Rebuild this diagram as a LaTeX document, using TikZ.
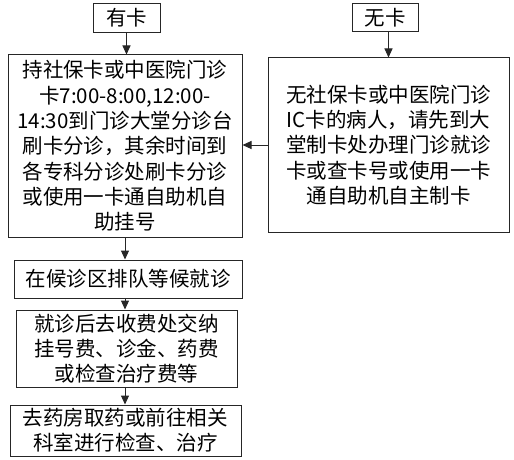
\documentclass[tikz,border=0pt]{standalone}
\usepackage{fontspec}
\setmainfont{Noto Sans CJK SC}
\usetikzlibrary{arrows.meta}
\begin{document}
\begin{tikzpicture}[x=1pt,y=-1pt,
  box/.style={draw=black!85, line width=1pt, inner sep=0pt, align=center,
    font=\fontsize{20.5}{25.3}\selectfont},
  arr/.style={draw=black!85, line width=1pt, -{Triangle[length=9pt,width=8pt]}}]
\useasboundingbox (0,0) rectangle (514,460);
\node[box, minimum width=67pt, minimum height=29pt] (youka) at (126.5,18) {有卡};
\node[box, minimum width=66pt, minimum height=28pt] (wuka) at (385,18) {无卡};
\node[box, minimum width=234pt, minimum height=182pt] (main) at (125,146)
  {持社保卡或中医院门诊\\卡7:00-8:00,12:00-\\14:30到门诊大堂分诊台\\刷卡分诊，其余时间到\\各专科分诊处刷卡分诊\\或使用一卡通自助机自\\助挂号};
\node[box, minimum width=241pt, minimum height=174pt] (right) at (388.5,145)
  {无社保卡或中医院门诊\\IC卡的病人，请先到大\\堂制卡处办理门诊就诊\\卡或查卡号或使用一卡\\通自助机自主制卡};
\node[box, minimum width=228pt, minimum height=38pt] (b3) at (128,279) {在候诊区排队等候就诊};
\node[box, minimum width=221pt, minimum height=77pt] (b4) at (126.5,348.5)
  {就诊后去收费处交纳\\挂号费、诊金、药费\\或检查治疗费等};
\node[box, minimum width=231pt, minimum height=51pt] (b5) at (125.5,430.5)
  {去药房取药或前往相关\\科室进行检查、治疗};
\draw[arr] (youka.south) -- (youka.south |- main.north);
\draw[arr] (wuka.south -| right) -- (right.north);
\draw[arr] (right.west) -- (right.west -| main.east);
\draw[arr] (main.south) -- (main.south |- b3.north);
\draw[arr] (b3.south -| main.south) -- (main.south |- b4.north);
\draw[arr] (b4.south -| main.south) -- (main.south |- b5.north);
\end{tikzpicture}
\end{document}
